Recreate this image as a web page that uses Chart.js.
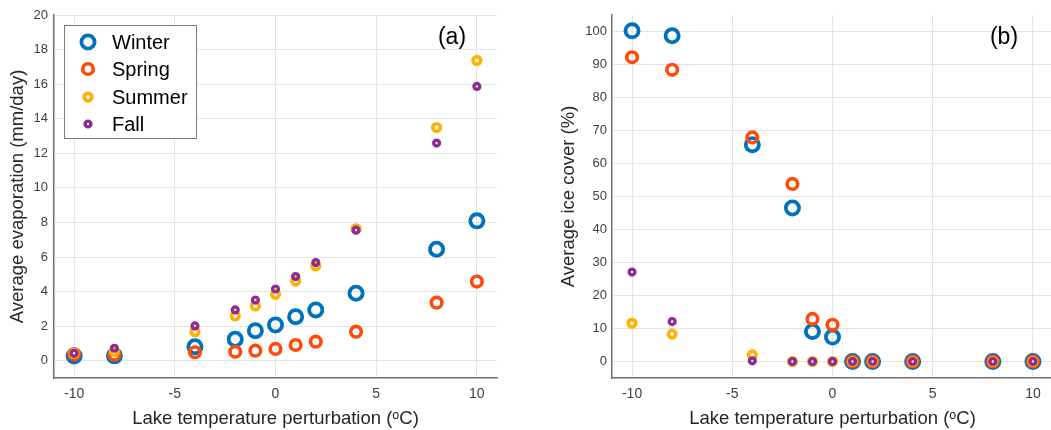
<!DOCTYPE html>
<html>
<head>
<meta charset="utf-8">
<script src="https://cdn.jsdelivr.net/npm/chart.js@4"></script>
<style>
  html, body { margin: 0; background: #fff; overflow: hidden; }
  #wrap { position: relative; width: 1051px; height: 430px; overflow: hidden; }
  canvas { position: absolute; top: 0; }
</style>
</head>
<body>
<div id="wrap">
  <canvas id="evapChart" width="520" height="430" style="left:0"></canvas>
  <!-- panel (b) runs past the right edge of the figure, as in the original crop -->
  <canvas id="iceChart" width="545" height="430" style="left:520px"></canvas>
</div>
<script>
// data
const tempPerturb = [-10, -8, -4, -2, -1, 0, 1, 2, 4, 8, 10];
const seasons = ['Winter', 'Spring', 'Summer', 'Fall'];

const evapWinter = [0.27, 0.28, 0.81, 1.24, 1.74, 2.07, 2.55, 2.94, 3.9, 6.45, 8.09];
const evapSpring = [0.37, 0.35, 0.49, 0.52, 0.58, 0.68, 0.91, 1.1, 1.68, 3.36, 4.58];
const evapSummer = [0.42, 0.52, 1.68, 2.59, 3.17, 3.84, 4.61, 5.48, 7.63, 13.49, 17.37];
const evapFall = [0.43, 0.72, 2.01, 2.94, 3.51, 4.15, 4.87, 5.68, 7.55, 12.59, 15.87];

const iceWinter = [100.2, 98.7, 65.7, 46.5, 9.1, 7.4, 0, 0, 0, 0, 0];
const iceSpring = [92.2, 88.4, 67.9, 53.8, 12.9, 11.1, 0, 0, 0, 0, 0];
const iceSummer = [11.6, 8.3, 2.0, 0, 0, 0, 0, 0, 0, 0, 0];
const iceFall = [27.1, 12.1, 0.2, 0, 0, 0, 0, 0, 0, 0, 0];

const xTicks = [-10, -5, 0, 5, 10];
const evapTicks = [0, 2, 4, 6, 8, 10, 12, 14, 16, 18, 20];
const iceTicks = [0, 10, 20, 30, 40, 50, 60, 70, 80, 90, 100];

// marker looks per season (winter drawn first, fall on top)
const styles = [
  { color: '#0072BD', radius: 6.6, width: 3.8, order: 4 },
  { color: '#FF4B0A', radius: 5.3, width: 3.6, order: 3 },
  { color: '#FFB000', radius: 3.8, width: 3.6, order: 2 },
  { color: '#8E2B97', radius: 2.9, width: 3.4, order: 1 }
];

const FONT = '"Liberation Sans", Arial, sans-serif';

function makeDatasets(series) {
  return series.map((vals, i) => ({
    label: seasons[i],
    data: vals.map((v, j) => ({ x: tempPerturb[j], y: v })),
    pointStyle: 'circle',
    pointRadius: styles[i].radius,
    pointBorderWidth: styles[i].width,
    pointBorderColor: styles[i].color,
    pointBackgroundColor: 'transparent',
    showLine: false,
    order: styles[i].order
  }));
}

// panel letter, and the boxed legend on panel (a)
const panelDecor = {
  id: 'panelDecor',
  afterDraw(chart, args, opts) {
    const ctx = chart.ctx;
    ctx.save();
    ctx.fillStyle = '#000';
    ctx.font = '23px ' + FONT;
    ctx.textAlign = 'center';
    ctx.textBaseline = 'middle';
    ctx.fillText(opts.letter, opts.letterX, 38);

    if (opts.legend) {
      ctx.fillStyle = '#fff';
      ctx.fillRect(64.5, 25.5, 132, 113);
      ctx.strokeStyle = '#7a7a7a';
      ctx.lineWidth = 1;
      ctx.strokeRect(64.5, 25.5, 132, 113);
      const rows = [42, 69, 97, 124];
      chart.data.datasets.forEach((ds, i) => {
        ctx.beginPath();
        ctx.arc(88, rows[i], ds.pointRadius, 0, Math.PI * 2);
        ctx.strokeStyle = ds.pointBorderColor;
        ctx.lineWidth = ds.pointBorderWidth;
        ctx.stroke();
        ctx.fillStyle = '#000';
        ctx.font = '20px ' + FONT;
        ctx.textAlign = 'left';
        ctx.fillText(ds.label, 112, rows[i] + 1);
      });
    }
    ctx.restore();
  }
};

function makeOptions(cfg) {
  return {
    responsive: false,
    animation: false,
    events: [],
    layout: { padding: { top: 15, right: cfg.padRight, left: 0, bottom: 0 } },
    plugins: {
      legend: { display: false },
      tooltip: { enabled: false },
      panelDecor: cfg.decor
    },
    scales: {
      x: {
        type: 'linear',
        min: -11,
        max: 11,
        afterBuildTicks: s => { s.ticks = xTicks.map(v => ({ value: v })); },
        afterFit: s => { s.height = 52; },
        grid: { color: '#e4e4e4', lineWidth: 1, drawTicks: false },
        border: { display: true, color: '#707070', width: 1.5 },
        ticks: { padding: 8, color: '#404040', font: { family: FONT, size: 14 } },
        title: {
          display: true,
          text: 'Lake temperature perturbation (ᵒC)',
          color: '#262626',
          font: { family: FONT, size: 18.5 },
          padding: { top: 0, bottom: 0 }
        }
      },
      y: {
        type: 'linear',
        min: cfg.yMin,
        max: cfg.yMax,
        afterBuildTicks: s => { s.ticks = cfg.yTicks.map(v => ({ value: v })); },
        afterFit: s => { s.width = cfg.yWidth; },
        grid: { color: '#e4e4e4', lineWidth: 1, drawTicks: false },
        border: { display: true, color: '#707070', width: 1.5 },
        ticks: { padding: cfg.tickPad, color: '#404040', font: { family: FONT, size: 13 } },
        title: {
          display: true,
          text: cfg.yTitle,
          color: '#262626',
          font: { family: FONT, size: 18.5 },
          padding: { top: cfg.titlePad, bottom: 0 }
        }
      }
    }
  };
}

new Chart(document.getElementById('evapChart'), {
  type: 'scatter',
  data: { datasets: makeDatasets([evapWinter, evapSpring, evapSummer, evapFall]) },
  options: makeOptions({
    padRight: 23, yMin: -1, yMax: 20, yTicks: evapTicks, yWidth: 54,
    tickPad: 6, titlePad: 7, yTitle: 'Average evaporation (mm/day)',
    decor: { letter: '(a)', letterX: 452, legend: true }
  }),
  plugins: [panelDecor]
});

new Chart(document.getElementById('iceChart'), {
  type: 'scatter',
  data: { datasets: makeDatasets([iceWinter, iceSpring, iceSummer, iceFall]) },
  options: makeOptions({
    padRight: 12, yMin: -5, yMax: 105, yTicks: iceTicks, yWidth: 92,
    tickPad: 5, titlePad: 38, yTitle: 'Average ice cover (%)',
    decor: { letter: '(b)', letterX: 484, legend: false }
  }),
  plugins: [panelDecor]
});
</script>
</body>
</html>
